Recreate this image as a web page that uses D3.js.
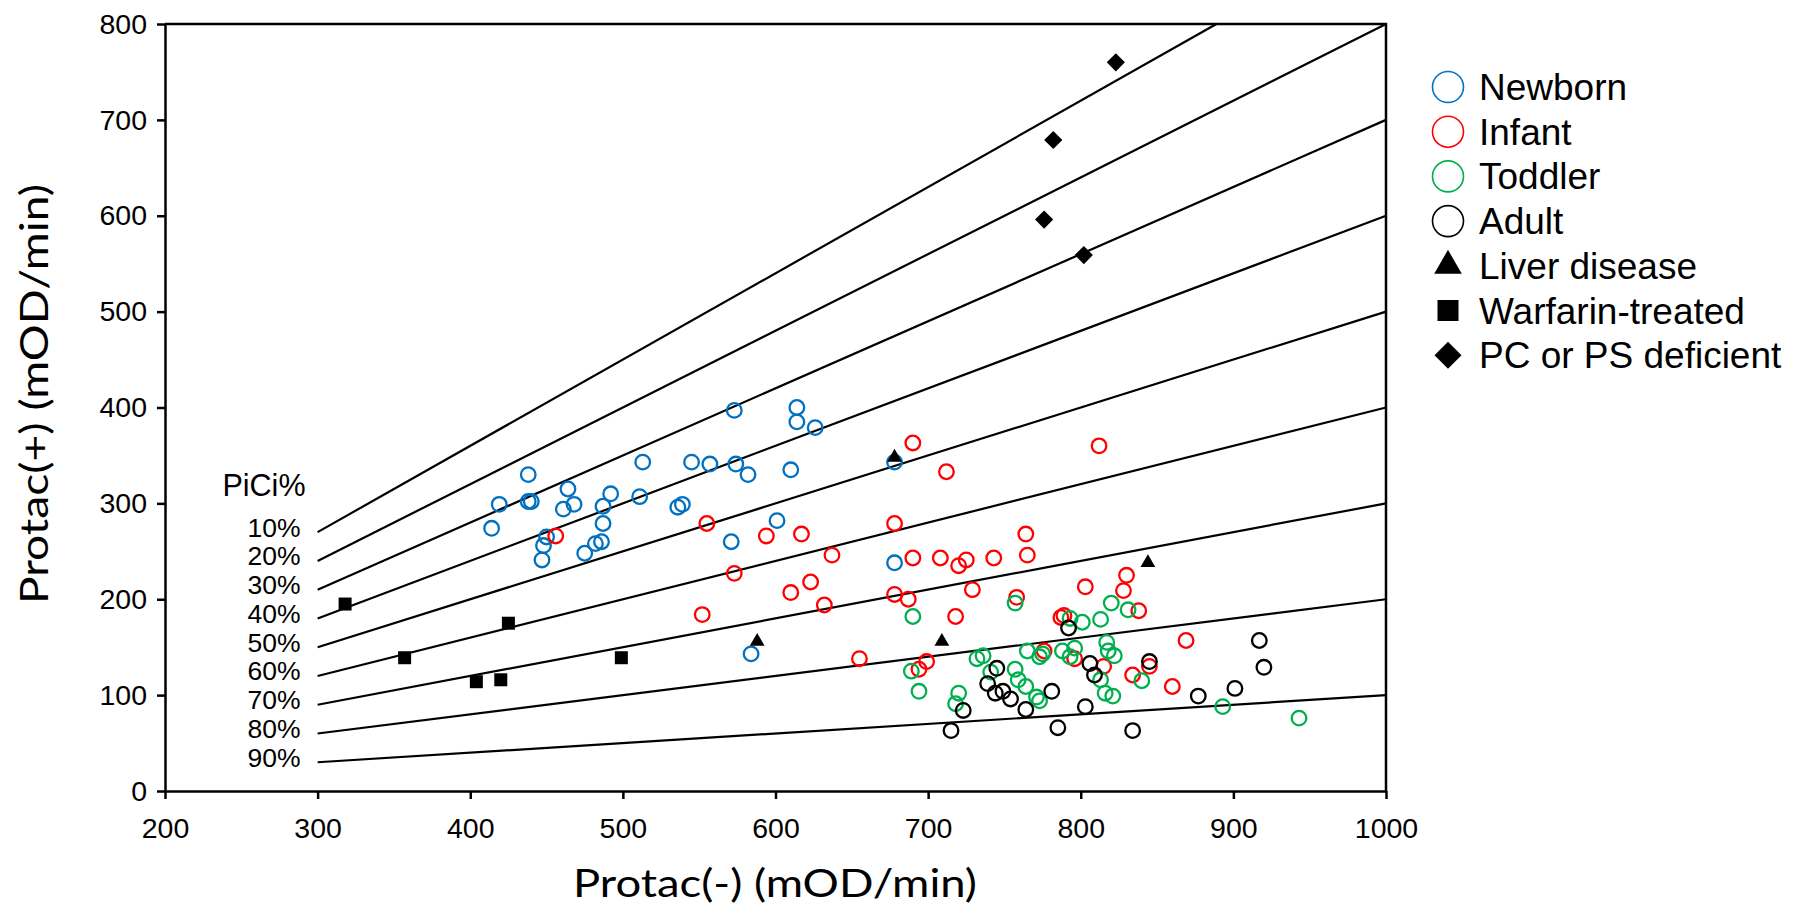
<!DOCTYPE html>
<meta charset="utf-8">
<style>
body { margin: 0; background: #fff; }
svg { font-family: "Liberation Sans", Arial, sans-serif; }
.axis path, .axis line { stroke: #000; stroke-width: 2.5px; }
.axis text { font-family: "Liberation Sans", Arial, sans-serif; font-size: 28.5px; fill: #000; }
.title { font-family: Lato, "Open Sans", sans-serif; font-size: 38px; fill: #000; }
</style>
<svg width="1800" height="908"></svg>
<script src="https://cdnjs.cloudflare.com/ajax/libs/d3/7.8.5/d3.min.js"></script>
<script>
// values: [Protac(-), Protac(+)]
var newborn = [[573,397],[614,400],[614,385],[626,379],[513,343],[545,343],[557,341],[574,341],
  [582,330],[610,335],[438,330],[419,299],[438,302],[440,302],[464,315],[461,294],[468,299],
  [492,310],[487,297],[511,307],[536,296],[539,299],[414,274],[487,279],[450,265],[448,256],
  [447,241],[475,248],[482,258],[486,260],[601,282],[571,260],[678,343],[678,238],[584,143]];
var infant = [[456,266],[555,279],[594,266],[617,268],[678,279],[637,246],[690,243],[573,227],
  [623,218],[610,207],[632,194],[678,205],[687,200],[552,184],[655,138],[699,135],[694,127],
  [690,363],[712,333],[812,360],[764,268],[708,243],[720,235],[725,241],[743,243],[765,246],
  [830,225],[828,209],[803,213],[729,210],[758,202],[718,182],[787,181],[789,183],[838,188],
  [869,157],[776,146],[796,138],[815,130],[834,121],[845,130],[860,109]];
var toddler = [[690,182],[689,125],[757,196],[820,196],[831,189],[813,179],[801,176],[793,180],
  [817,155],[818,146],[822,141],[796,149],[788,146],[793,140],[765,146],[773,140],[775,143],
  [736,141],[732,138],[757,127],[759,116],[764,109],[741,124],[694,104],[720,102],[718,91],
  [771,98],[773,94],[813,116],[816,102],[821,99],[840,115],[893,88],[943,76]];
var adult = [[792,170],[917,157],[920,129],[845,135],[806,133],[809,121],[745,128],[739,112],
  [744,102],[749,104],[754,96],[723,84],[764,85],[781,104],[803,88],[877,99],[901,107],
  [715,63],[785,66],[834,63]];
var liver = [[588,156],[678,348],[709,156],[844,238]];
var warfarin = [[318,195],[357,139],[404,114],[420,116],[425,175],[499,139]];
var deficient = [[823,760],[782,679],[776,596],[802,559]];

var piciLevels = [10, 20, 30, 40, 50, 60, 70, 80, 90];
var xTicks = [200, 300, 400, 500, 600, 700, 800, 900, 1000];
var yTicks = [0, 100, 200, 300, 400, 500, 600, 700, 800];

var svg = d3.select("svg");

var x = d3.scaleLinear().domain([200, 1000]).range([165, 1386]);
var y = d3.scaleLinear().domain([0, 800]).range([791, 24]);

// frame (top and right)
svg.append("path")
    .attr("d", "M" + x(200) + "," + y(800) + "H" + x(1000) + "V" + y(0))
    .attr("fill", "none").attr("stroke", "#000").attr("stroke-width", 2.5);

// PiCi% reference lines: Protac(+) = (1 - p) * Protac(-)
var lineG = svg.append("g");
piciLevels.forEach(function(p) {
  var k = 1 - p / 100,
      xEnd = Math.min(1000, 800 / k);
  lineG.append("line")
      .attr("x1", x(300)).attr("y1", y(300 * k))
      .attr("x2", x(xEnd)).attr("y2", y(xEnd * k))
      .attr("stroke", "#000").attr("stroke-width", 2.2);
  lineG.append("text")
      .attr("x", x(300) - 17).attr("y", y(300 * k) + 4.5)
      .attr("text-anchor", "end")
      .style("font-size", "26.5px")
      .text(p + "%");
});
lineG.append("text")
    .attr("x", 264).attr("y", 496)
    .attr("text-anchor", "middle")
    .style("font-size", "30.5px")
    .text("PiCi%");

// axes
svg.append("g").attr("class", "axis")
    .attr("transform", "translate(0," + y(0) + ")")
    .call(d3.axisBottom(x).tickValues(xTicks).tickFormat(d3.format("d"))
      .tickSize(8).tickSizeOuter(0).tickPadding(19));
svg.append("g").attr("class", "axis")
    .attr("transform", "translate(" + x(200) + ",0)")
    .call(d3.axisLeft(y).tickValues(yTicks).tickFormat(d3.format("d"))
      .tickSize(8).tickSizeOuter(0).tickPadding(10));

// axis titles
svg.append("text").attr("class", "title")
    .attr("x", 775).attr("y", 897)
    .attr("text-anchor", "middle")
    .attr("textLength", 404).attr("lengthAdjust", "spacingAndGlyphs")
    .text("Protac(-) (mOD/min)");
svg.append("text").attr("class", "title")
    .attr("transform", "translate(48,394) rotate(-90)")
    .attr("text-anchor", "middle")
    .attr("textLength", 420).attr("lengthAdjust", "spacingAndGlyphs")
    .text("Protac(+) (mOD/min)");

// markers
var circles = [
  {data: newborn, color: "#0070C0"},
  {data: infant, color: "#FF0000"},
  {data: toddler, color: "#00B050"},
  {data: adult, color: "#000000"}
];
circles.forEach(function(s) {
  svg.append("g").selectAll("circle")
      .data(s.data)
    .enter().append("circle")
      .attr("cx", function(d) { return x(d[0]); })
      .attr("cy", function(d) { return y(d[1]); })
      .attr("r", 7.3)
      .attr("fill", "none")
      .attr("stroke", s.color)
      .attr("stroke-width", 2.3);
});

var shapes = [
  {data: liver, type: d3.symbolTriangle, size: 95, rot: 0},
  {data: warfarin, type: d3.symbolSquare, size: 169, rot: 0},
  {data: deficient, type: d3.symbolSquare, size: 165, rot: 45}
];
shapes.forEach(function(s) {
  svg.append("g").selectAll("path")
      .data(s.data)
    .enter().append("path")
      .attr("transform", function(d) {
        return "translate(" + x(d[0]) + "," + y(d[1]) + ") rotate(" + s.rot + ")";
      })
      .attr("d", d3.symbol().type(s.type).size(s.size))
      .attr("fill", "#000");
});

// legend
var legendItems = [
  {label: "Newborn", kind: "circle", color: "#0070C0"},
  {label: "Infant", kind: "circle", color: "#FF0000"},
  {label: "Toddler", kind: "circle", color: "#00B050"},
  {label: "Adult", kind: "circle", color: "#000000"},
  {label: "Liver disease", kind: d3.symbolTriangle, size: 330, rot: 0},
  {label: "Warfarin-treated", kind: d3.symbolSquare, size: 441, rot: 0},
  {label: "PC or PS deficient", kind: d3.symbolSquare, size: 365, rot: 45}
];
var legend = svg.append("g").attr("transform", "translate(1448,87)");
var row = legend.selectAll("g")
    .data(legendItems)
  .enter().append("g")
    .attr("transform", function(d, i) { return "translate(0," + (i * 44.7) + ")"; });
row.each(function(d) {
  var g = d3.select(this);
  if (d.kind === "circle") {
    g.append("circle").attr("r", 15.5)
        .attr("fill", "none").attr("stroke", d.color).attr("stroke-width", 1.6);
  } else {
    g.append("path").attr("d", d3.symbol().type(d.kind).size(d.size))
        .attr("transform", "rotate(" + d.rot + ")")
        .attr("fill", "#000");
  }
});
row.append("text")
    .attr("x", 31).attr("y", 13)
    .style("font-size", "37px")
    .text(function(d) { return d.label; });
</script>
